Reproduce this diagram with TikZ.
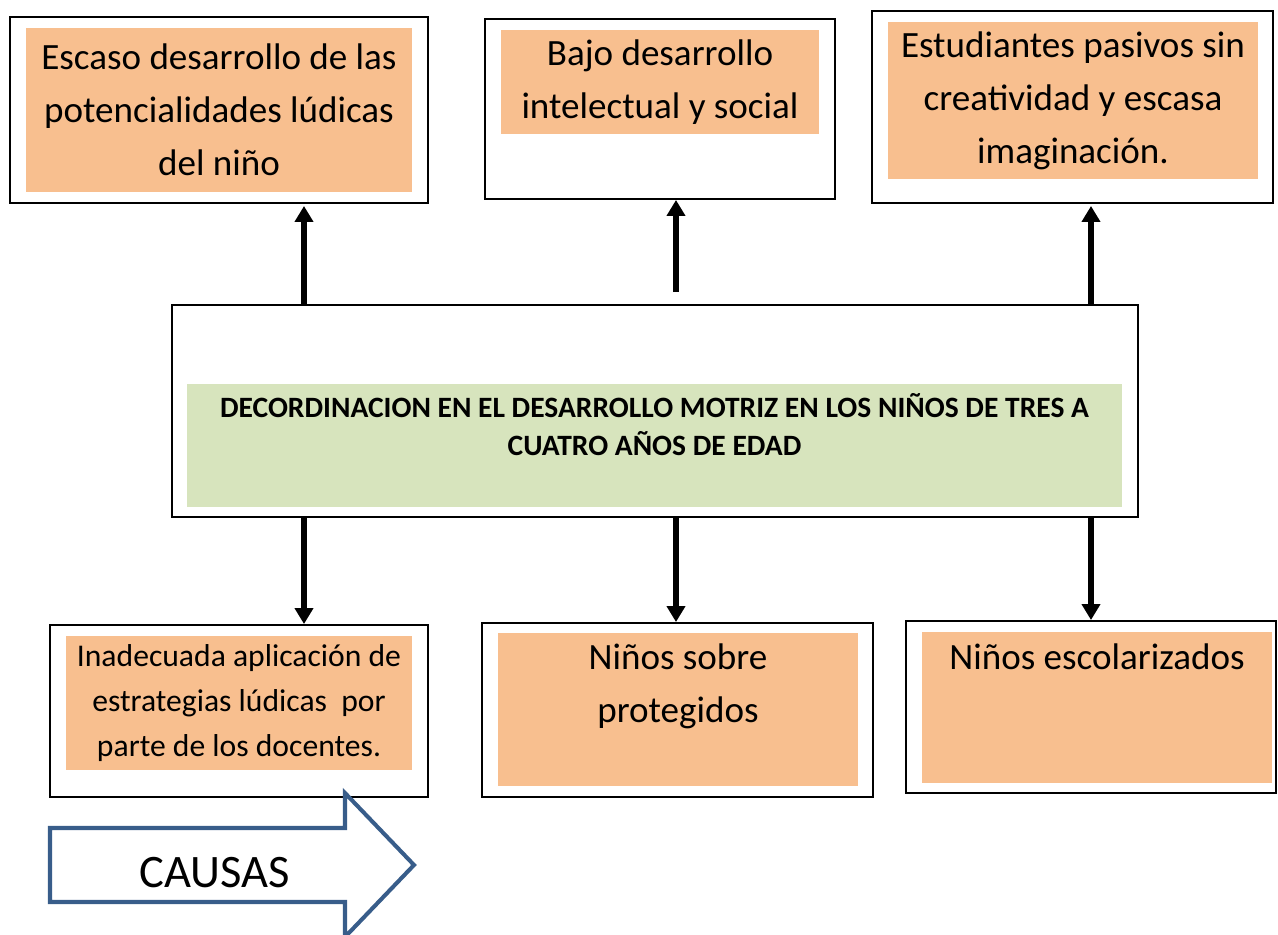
\documentclass[tikz,border=0pt]{standalone}
\usepackage{fontspec}
\setmainfont{Carlito}
\usetikzlibrary{arrows.meta, calc}
\definecolor{effectorange}{RGB}{248,191,143}
\definecolor{problemgreen}{RGB}{215,228,189}
\definecolor{causeblue}{RGB}{56,93,138}

\begin{document}
\begin{tikzpicture}[
  % outer white frames, size given per node
  framebox/.style={rectangle, draw=black, line width=1.1pt, fill=white, inner sep=0pt},
  % coloured inner boxes carry the text
  fillbox/.style={rectangle, fill=#1, inner sep=0pt, align=center},
  bigtext/.style={font=\fontsize{21.1}{30.2}\selectfont},
  smalltext/.style={font=\fontsize{18}{25.5}\selectfont},
  arr/.style={-{Triangle[length=0.32cm, width=0.36cm]}, line width=2.9pt}
]
\useasboundingbox (0,0) rectangle (25.56,-18.7);

% Effects (top row)
\node[framebox, minimum width=8.36cm, minimum height=3.72cm] (eff1out) at (4.38,-2.20) {};
\node[fillbox=effectorange, bigtext, minimum width=7.72cm, minimum height=3.28cm] (eff1) at (4.38,-2.20)
    {Escaso desarrollo de las\\potencialidades lúdicas\\del niño};

\node[framebox, minimum width=7.0cm, minimum height=3.6cm] (eff2out) at (13.2,-2.18) {};
\node[fillbox=effectorange, bigtext, minimum width=6.36cm, minimum height=2.08cm] (eff2) at (13.2,-1.64)
    {Bajo desarrollo\\intelectual y social};

\node[framebox, minimum width=8.02cm, minimum height=3.84cm] (eff3out) at (21.45,-2.14) {};
\node[fillbox=effectorange, bigtext, minimum width=7.4cm, minimum height=3.14cm] (eff3) at (21.46,-2.01)
    {Estudiantes pasivos sin\\creatividad y escasa\\imaginación.};

% Central problem
\node[framebox, minimum width=19.32cm, minimum height=4.24cm] (prob) at (13.1,-8.22) {};
\node[fillbox=problemgreen, minimum width=18.7cm, minimum height=2.46cm,
      label={[align=center, yshift=0.42cm, font=\fontsize{16.8}{21.5}\selectfont\bfseries]center:DECORDINACION EN EL DESARROLLO MOTRIZ EN LOS NIÑOS DE TRES A\\CUATRO AÑOS DE EDAD}]
    (probin) at (13.09,-8.91) {};

% Causes (bottom row)
\node[framebox, minimum width=7.56cm, minimum height=3.44cm] (cau1out) at (4.78,-14.22) {};
\node[fillbox=effectorange, smalltext, minimum width=6.92cm, minimum height=2.68cm] (cau1) at (4.78,-14.06)
    {Inadecuada aplicación de\\estrategias lúdicas\ \ por\\parte de los docentes.};

\node[framebox, minimum width=7.82cm, minimum height=3.48cm] (cau2out) at (13.55,-14.2) {};
\node[fillbox=effectorange, minimum width=7.2cm, minimum height=3.06cm,
      label={[anchor=north, align=center, bigtext, yshift=-0.1cm]north:Niños sobre\\protegidos}]
    (cau2) at (13.56,-14.19) {};

\node[framebox, minimum width=7.4cm, minimum height=3.44cm] (cau3out) at (21.82,-14.14) {};
\node[fillbox=effectorange, minimum width=7.0cm, minimum height=3.02cm,
      label={[anchor=north, align=center, bigtext, yshift=-0.12cm]north:Niños escolarizados}]
    (cau3) at (21.94,-14.15) {};

% Arrow columns
\coordinate (col1) at (6.08,0);
\coordinate (col2) at (13.52,0);
\coordinate (col3) at (21.82,0);

\draw[arr] (prob.north -| col1) -- ([yshift=-0.04cm]eff1out.south -| col1);
\draw[arr] ([yshift=0.24cm]prob.north -| col2) -- (eff2out.south -| col2);
\draw[arr] (prob.north -| col3) -- ([yshift=-0.04cm]eff3out.south -| col3);

\draw[arr] (prob.south -| col1) -- (cau1out.north -| col1);
\draw[arr] (prob.south -| col2) -- (cau2out.north -| col2);
\draw[arr] (prob.south -| col3) -- (cau3out.north -| col3);

% CAUSAS block arrow
\draw[causeblue, line width=2.3pt, fill=white, line join=miter]
    (1.0,-16.56) -- (6.9,-16.56) -- (6.9,-15.86) -- (8.28,-17.30)
    -- (6.9,-18.74) -- (6.9,-18.04) -- (1.0,-18.04) -- cycle;
\node[font=\fontsize{26.5}{30}\selectfont] (causas) at (4.3,-17.46) {CAUSAS};

\end{tikzpicture}
\end{document}
